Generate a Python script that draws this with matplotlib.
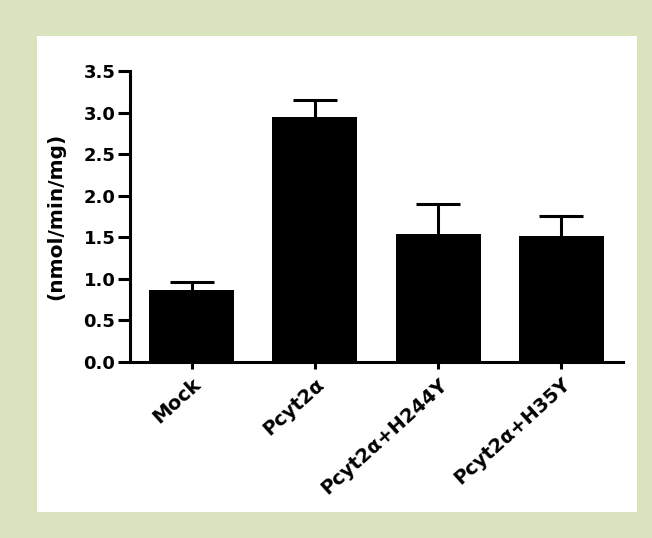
import numpy as np
import matplotlib
matplotlib.use('Agg')
import matplotlib.pyplot as plt
from matplotlib.patches import Rectangle

groups = ['Mock', 'Pcyt2α', 'Pcyt2α+H244Y', 'Pcyt2α+H35Y']
means = [0.87, 2.95, 1.54, 1.52]
sem = [0.09, 0.20, 0.36, 0.24]
yticks = [0.0, 0.5, 1.0, 1.5, 2.0, 2.5, 3.0, 3.5]

plt.rcParams['font.family'] = 'DejaVu Sans'
plt.rcParams['font.weight'] = 'bold'

fig = plt.figure(figsize=(6.52, 5.38), dpi=100)
fig.patch.set_facecolor('#d9e4bf')
fig.patches.append(Rectangle((37 / 652, 26 / 538), 600 / 652, 476 / 538,
                             transform=fig.transFigure, facecolor='white',
                             edgecolor='none', zorder=-10))

ax = fig.add_axes([130 / 652, 176 / 538, 493 / 652, 291 / 538])
ax.set_facecolor('none')

x = np.arange(len(groups))
# error bars sit behind the bars so only the upper half shows
ax.errorbar(x, means, yerr=sem, fmt='none', ecolor='black',
            elinewidth=2.2, capsize=15.5, capthick=2.2, zorder=1)
ax.bar(x, means, width=0.69, color='black', zorder=2)

ax.set_xlim(-0.5, 3.5)
ax.set_ylim(0, 3.5)
ax.set_yticks(yticks)
ax.set_yticklabels(['%.1f' % t for t in yticks], fontsize=13, fontweight='heavy')
ax.set_xticks(x)
ax.set_xticklabels(groups, fontsize=14, fontweight='heavy', rotation=42,
                   ha='right', va='top', rotation_mode='anchor')

for s in ['top', 'right']:
    ax.spines[s].set_visible(False)
for s in ['left', 'bottom']:
    ax.spines[s].set_linewidth(2.2)
ax.tick_params(axis='y', direction='out', length=9, width=2.2, pad=1.5)
ax.tick_params(axis='x', direction='out', length=5, width=2.2, pad=4)

ax.set_ylabel('(nmol/min/mg)', fontsize=14.5, fontweight='heavy', labelpad=13)

fig.savefig('out.png', dpi=100, facecolor=fig.get_facecolor())
